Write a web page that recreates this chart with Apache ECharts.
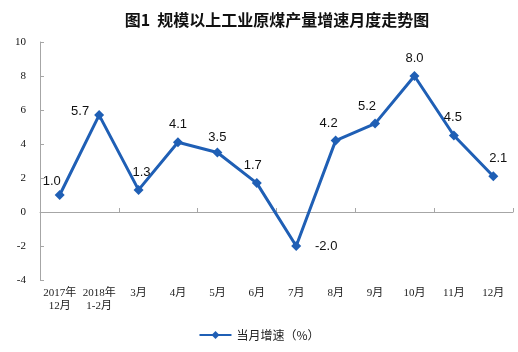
<!DOCTYPE html>
<html>
<head>
<meta charset="utf-8">
<script src="https://cdn.jsdelivr.net/npm/echarts@6/dist/echarts.min.js"></script>
<style>
html, body { margin: 0; padding: 0; background: #fff; }
#main { width: 518px; height: 352px; }
</style>
</head>
<body>
<div id="main"></div>
<script>
var months = ['2017年\n12月', '2018年\n1-2月', '3月', '4月', '5月', '6月', '7月', '8月', '9月', '10月', '11月', '12月'];
var growth = [1.0, 5.7, 1.3, 4.1, 3.5, 1.7, -2.0, 4.2, 5.2, 8.0, 4.5, 2.1];
var yTicks = [-4, -2, 0, 2, 4, 6, 8, 10];

// where each value label sits relative to its point
var labelOffsets = [[-8, 4], [-19, 14], [3, 0], [0, 0], [0, 2], [-4, 0], [30, 18], [-7, 0], [-8, 0], [0, 0], [-1, -1], [5, 0]];

var lineColor = '#1f5fb5';
var axisColor = '#a6a6a6';

var chart = echarts.init(document.getElementById('main'));

var seriesData = growth.map(function (v, i) {
    return {
        value: v,
        label: { offset: labelOffsets[i] }
    };
});

var option = {
    animation: false,
    title: {
        text: '图1  规模以上工业原煤产量增速月度走势图',
        left: 272,
        textAlign: 'center',
        top: 7,
        textStyle: {
            fontFamily: 'Noto Sans CJK SC',
            fontSize: 16,
            fontWeight: 'bold',
            color: '#111'
        }
    },
    legend: {
        bottom: 6,
        left: 'center',
        itemWidth: 32,
        itemHeight: 10,
        data: ['当月增速（%）'],
        textStyle: { fontFamily: 'Noto Sans CJK SC', fontSize: 12, color: '#222' }
    },
    grid: { left: 40, right: 5, top: 42, bottom: 72 },
    xAxis: [{
        type: 'category',
        data: months,
        boundaryGap: true,
        axisLine: { onZero: true, lineStyle: { color: axisColor, width: 1 } },
        axisTick: { show: true, inside: true, length: 4, lineStyle: { color: axisColor } },
        axisLabel: { show: false },
        splitLine: { show: false }
    }, {
        type: 'category',
        data: months,
        position: 'bottom',
        boundaryGap: true,
        axisLine: { show: false, onZero: false },
        axisTick: { show: false },
        axisLabel: {
            margin: 7,
            interval: 0,
            lineHeight: 13,
            fontFamily: 'Liberation Serif, Noto Sans CJK SC',
            fontSize: 11,
            color: '#222'
        }
    }],
    yAxis: {
        type: 'value',
        min: yTicks[0],
        max: yTicks[yTicks.length - 1],
        interval: 2,
        axisLine: { show: true, lineStyle: { color: axisColor, width: 1 } },
        axisTick: { show: true, inside: true, length: 4, lineStyle: { color: axisColor } },
        axisLabel: {
            margin: 14,
            fontFamily: 'Liberation Serif',
            fontSize: 11,
            color: '#111'
        },
        splitLine: { show: false }
    },
    series: [{
        name: '当月增速（%）',
        type: 'line',
        data: seriesData,
        symbol: 'diamond',
        symbolSize: 10,
        lineStyle: { color: lineColor, width: 3 },
        itemStyle: { color: lineColor },
        label: {
            show: true,
            position: 'top',
            distance: 6,
            fontFamily: 'Liberation Sans',
            fontSize: 13,
            color: '#111',
            formatter: function (p) { return p.value.toFixed(1); }
        }
    }]
};

chart.setOption(option);
</script>
</body>
</html>
